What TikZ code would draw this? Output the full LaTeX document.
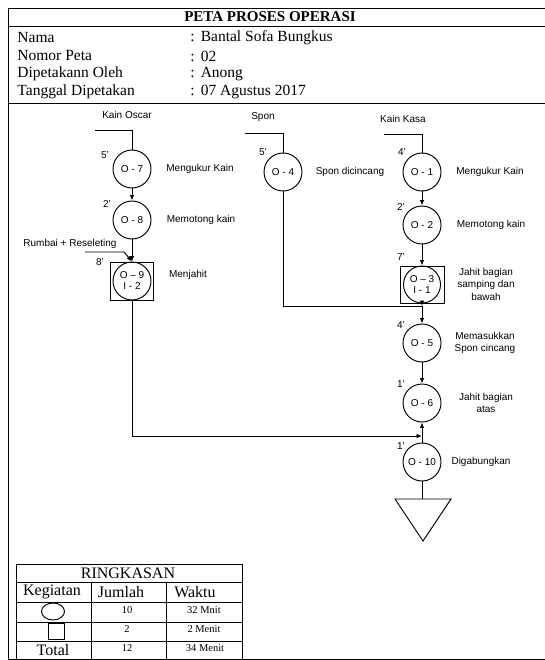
\documentclass[tikz,border=0pt]{standalone}
\usepackage{fontspec}
\setmainfont{Liberation Serif}
\setsansfont{Liberation Sans}
\usetikzlibrary{arrows.meta,shapes.geometric}
\begin{document}
\begin{tikzpicture}[x=1pt,y=-1pt,line width=0.95pt,
  op/.style={circle,draw,minimum size=38pt,inner sep=0pt,align=center,font=\sffamily\fontsize{10}{12}\selectfont},
  lbl/.style={align=center,inner sep=1pt,font=\sffamily\fontsize{10}{12.5}\selectfont},
  tm/.style={inner sep=0pt,font=\sffamily\fontsize{10}{11}\selectfont},
  hd/.style={anchor=west,inner sep=0pt,font=\fontsize{15.5}{17}\selectfont},
  tb/.style={inner sep=0pt,font=\fontsize{16}{17}\selectfont},
  ts/.style={inner sep=0pt,font=\fontsize{10.5}{12}\selectfont},
  arr/.style={-{Latex[length=5.5pt,width=4.5pt]}},
  ibox/.style={draw,minimum width=43pt,minimum height=38pt,inner sep=0pt}]
\useasboundingbox (0,0) rectangle (544,660);
% frame
\draw (546,8) -- (8,8) -- (8,659) -- (546,659);
\draw (8,26) -- (546,26);
\draw (8,103) -- (546,103);
% header
\node[inner sep=0pt,font=\bfseries\fontsize{15}{16}\selectfont] (title) at (270,17) {PETA PROSES OPERASI};
\node[hd] (h1) at (17,38) {Nama};
\node[hd] (h2) at (17,56) {Nomor Peta};
\node[hd] (h3) at (17,74) {Dipetakann Oleh};
\node[hd] (h4) at (17,92) {Tanggal Dipetakan};
\node[hd] (v1) at (190,38) {:\hspace{6pt}Bantal Sofa Bungkus};
\node[hd] (v2) at (190,56) {:\hspace{6pt}02};
\node[hd] (v3) at (190,74) {:\hspace{6pt}Anong};
\node[hd] (v4) at (190,92) {:\hspace{6pt}07 Agustus 2017};
% left column
\node[lbl] (kainoscar) at (127,115) {Kain Oscar};
\coordinate (ko) at (95,130);
\node[op] (o7) at (132,169) {O - 7};
\draw (ko) -| (o7.north);
\node[tm] (t7) at (105,155) {5'};
\node[lbl] (d7) at (200,169) {Mengukur Kain};
\node[op] (o8) at (132,220) {O - 8};
\draw[arr] (o7) -- (o8);
\node[tm] (t8) at (107,204) {2'};
\node[lbl] (d8) at (201,220) {Memotong kain};
\node[lbl] (rumbai) at (70,244) {Rumbai + Reseleting};
\coordinate (rr) at (85,252);
\node[ibox] (b9) at (132,281) {};
\node[op] (o9) at (132,281) {O -- 9\\[-1pt]I - 2};
\draw[arr] (o8) -- (b9.north);
\draw[arr] (rr) -- (124,252) -- (b9.north);
\node[tm] (t9) at (100,262) {8'};
\node[lbl] (d9) at (188,275) {Menjahit};
% spon column
\node[lbl] (spon) at (263,117) {Spon};
\coordinate (sp) at (245,133);
\node[op] (o4) at (283,172) {O - 4};
\draw (sp) -| (o4.north);
\node[tm] (t4) at (263,152) {5'};
\node[lbl] (d4) at (350,172) {Spon dicincang};
% right column
\node[lbl] (kainkasa) at (403,119) {Kain Kasa};
\coordinate (kk) at (384,134);
\node[op] (o1) at (422,172) {O - 1};
\draw (kk) -| (o1.north);
\node[tm] (t1) at (402,152) {4'};
\node[lbl] (d1) at (490,172) {Mengukur Kain};
\node[op] (o2) at (422,225) {O - 2};
\draw[arr] (o1) -- (o2);
\node[tm] (t2) at (401,207) {2'};
\node[lbl] (d2) at (491,225) {Memotong kain};
\node[ibox,minimum width=44pt,minimum height=37pt] (b3) at (422,284.5) {};
\node[op,minimum size=37pt] (o3) at (422,284.5) {O -- 3\\[-1pt]I - 1};
\draw[arr] (o2) -- (b3.north);
\node[tm] (t3) at (401,257) {7'};
\node[lbl] (d3) at (486,284) {Jahit bagian\\samping dan\\bawah};
\coordinate (jn) at (422,306);
\draw[arr] (b3.south) -- (jn);
\draw (o4.south) |- (jn);
\node[op] (o5) at (422,343) {O - 5};
\draw[arr] (jn) -- (o5.north);
\node[tm] (t5) at (401,325) {4'};
\node[lbl] (d5) at (485,343) {Memasukkan\\Spon cincang};
\node[op] (o6) at (422,403) {O - 6};
\draw[arr] (o5) -- (o6);
\node[tm] (t6) at (401,384) {1'};
\node[lbl] (d6) at (486,403) {Jahit bagian\\atas};
\node[op] (o10) at (422,462) {O - 10};
\draw[arr] (o10) -- (o6);
\node[tm] (t10) at (401,446) {1'};
\node[lbl] (d10) at (481,462) {Digabungkan};
\coordinate (mg) at (422,436);
\draw[arr] (b9.south) |- (mg);
% storage triangle
\coordinate (tl) at (395,499);
\coordinate (tr) at (451,499);
\coordinate (tbm) at (423,541);
\coordinate (ttop) at (422,499);
\draw (tl) -- (tr) -- (tbm) -- cycle;
\draw (o10.south) -- (ttop);
% summary table
\draw (16,564) rectangle (242,659);
\draw (16,582) -- (242,582);
\draw (16,602) -- (242,602);
\draw (16,622) -- (242,622);
\draw (16,641) -- (242,641);
\draw (91,582) -- (91,659);
\draw (166,582) -- (166,659);
\node[tb] (rk) at (128,573) {RINGKASAN};
\node[tb] (kg) at (52,592) {Kegiatan};
\node[tb] (jm) at (121,592) {Jumlah};
\node[tb] (wk) at (195,592) {Waktu};
\draw (53,611.5) ellipse (11.5 and 8.5);
\draw (48,623.5) rectangle (64,639.5);
\node[ts] (n1) at (127,610) {10};
\node[ts] (w1) at (204,610) {32 Mnit};
\node[ts] (n2) at (127,629) {2};
\node[ts] (w2) at (204,629) {2 Menit};
\node[tb] (tt) at (53,650) {Total};
\node[ts] (n3) at (127,648) {12};
\node[ts] (w3) at (205,648) {34 Menit};
\end{tikzpicture}
\end{document}
